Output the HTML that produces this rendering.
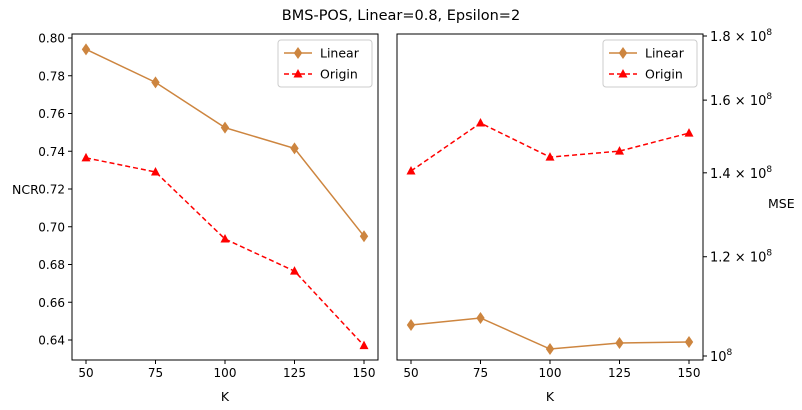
<!DOCTYPE html>
<html><head><meta charset="utf-8"><style>
body{margin:0;background:#fff}
svg{font-family:"DejaVu Sans","Liberation Sans",sans-serif}
</style></head><body>
<svg id="c" width="802" height="405" viewBox="0 0 802 405"></svg>
<script>
const kValues=[50,75,100,125,150];
const ncrLinear=[0.794,0.7765,0.7525,0.7415,0.695];
const ncrOrigin=[0.7365,0.729,0.6935,0.6765,0.637];
const mseLinear=[1.0586e8,1.0723e8,1.0129e8,1.0242e8,1.0261e8];
const mseOrigin=[1.4047e8,1.534e8,1.441e8,1.457e8,1.506e8];
const xTicks=[50,75,100,125,150];
const ncrTicks=[0.64,0.66,0.68,0.70,0.72,0.74,0.76,0.78,0.80];
const mseTicks=[1.2e8,1.4e8,1.6e8,1.8e8];

const NS="http://www.w3.org/2000/svg";
const svg=document.getElementById('c');
function el(t,a,p){const e=document.createElementNS(NS,t);for(const k in a)e.setAttribute(k,a[k]);(p||svg).appendChild(e);return e;}
const yTop=34,yBot=360;
const xs0=(v,x0)=>x0+14+(v-50)/100*278;
const yL=v=>340-(v-0.64)/0.02*37.75;
const yR=v=>356-Math.log(v/1e8)/Math.log(1.8)*320;

let t=el('text',{x:401,y:20,'text-anchor':'middle','font-size':14.5});t.textContent='BMS-POS, Linear=0.8, Epsilon=2';



function marker(g,type,x,y,color){
  if(type==='d'){el('polygon',{points:`${x},${y-6} ${x+4.2},${y} ${x},${y+6} ${x-4.2},${y}`,fill:color},g);}
  else {el('polygon',{points:`${x},${y-5} ${x+4.5},${y+3.5} ${x-4.5},${y+3.5}`,fill:color},g);}
}
function panel(x0,x1,name,yfn,lin,ori,ticks,ylab,right){
  const g=el('g',{});
  
  
  el('rect',{x:x0,y:yTop,width:x1-x0,height:yBot-yTop,fill:'none',stroke:'#000','stroke-width':1},g);
  xTicks.forEach(v=>{const x=xs0(v,x0);el('line',{x1:x,x2:x,y1:yBot,y2:yBot+4,stroke:'#000'},g);
    const tt=el('text',{x:x,y:yBot+17,'text-anchor':'middle','font-size':12},g);tt.textContent=v;});
  const xl=el('text',{x:(x0+x1)/2,y:401,'text-anchor':'middle','font-size':12.5},g);xl.textContent='K';
  ticks.forEach(v=>{const y=yfn(v);
    if(!right){el('line',{x1:x0,x2:x0-4,y1:y,y2:y,stroke:'#000'},g);
      const tt=el('text',{x:x0-7,y:y+4.5,'text-anchor':'end','font-size':12},g);tt.textContent=v.toFixed(2);}
    else{el('line',{x1:x1,x2:x1+4,y1:y,y2:y,stroke:'#000'},g);
      const tt=el('text',{x:x1+7,y:y+5,'font-size':13},g);
      const a=el('tspan',{'font-size':13},tt);a.textContent=(v===1e8?'':(v/1e8).toFixed(1)+' × ')+'10';
      const b=el('tspan',{'font-size':9,dy:-6},tt);b.textContent='8';}
  });
  const yl=el('text',{x:right?768:12,y:right?208:194,'font-size':12.5},g);yl.textContent=ylab;
  const series=[[lin,'#cd853f','d','none','Linear'],[ori,'#ff0000','t','5,3','Origin']];
  series.forEach(([d,c,m,da,nm])=>{
    const sg=el('g',{},g);
    
    
    el('polyline',{points:d.map((v,i)=>xs0(kValues[i],x0)+','+yfn(v)).join(' '),fill:'none',stroke:c,'stroke-width':1.5,'stroke-dasharray':da},sg);
    d.forEach((v,i)=>marker(sg,m,xs0(kValues[i],x0),yfn(v),c));
  });
  const lg=el('g',{},g);
  
  
  const lx=x1-100;
  el('rect',{x:lx,y:40,width:94,height:47,rx:3,fill:'#fff',stroke:'#ccc'},lg);
  series.forEach(([d,c,m,da,nm],i)=>{const y=53+i*21;
    el('line',{x1:lx+6,x2:lx+34,y1:y,y2:y,stroke:c,'stroke-width':1.5,'stroke-dasharray':da},lg);
    marker(lg,m,lx+20,y,c);
    const tt=el('text',{x:lx+42,y:y+4.5,'font-size':12.5},lg);tt.textContent=nm;});
}
panel(72,378,'left-panel-ncr',yL,ncrLinear,ncrOrigin,ncrTicks,'NCR',false);
const rightTicks=[1e8].concat(mseTicks);
panel(397,703,'right-panel-mse',yR,mseLinear,mseOrigin,rightTicks,'MSE',true);
</script>
</body></html>
